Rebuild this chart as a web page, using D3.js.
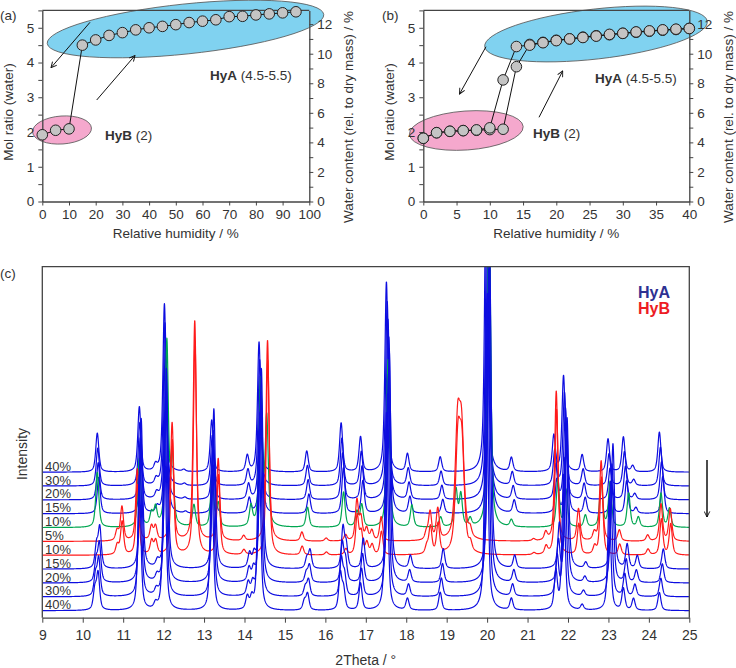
<!DOCTYPE html>
<html><head><meta charset="utf-8">
<script src="https://cdn.jsdelivr.net/npm/d3@7"></script>
<style>
body{margin:0;background:#fff}
svg{display:block}
text{font-family:Arial,"Liberation Sans",sans-serif;fill:#333}
</style>
</head><body>
<svg id="chart" width="736" height="668"></svg>
<script>
// ---------------- DATA ----------------
// Panel (a): water sorption, 0-95 % RH
const rhA = [0,5,10,15,20,25,30,35,40,45,50,55,60,65,70,75,80,85,90,95];
const molA = [1.92,2.05,2.09,4.50,4.65,4.78,4.86,4.94,5.00,5.04,5.09,5.15,5.19,5.23,5.32,5.33,5.37,5.40,5.43,5.46];

// Panel (b): sorption / desorption, 0-40 % RH
const rhB = [0,2,4,6,8,10,12,14,16,18,20,22,24,26,28,30,32,34,36,38,40];
const molBAds = [1.82,1.98,2.02,2.04,2.05,2.07,2.08,3.88,4.52,4.58,4.64,4.68,4.73,4.77,4.80,4.84,4.87,4.90,4.93,4.95,4.98];
const molBDes = [1.82,1.98,2.02,2.04,2.06,2.12,3.50,4.46,4.50,4.57,4.63,4.68,4.72,4.76,4.81,4.84,4.88,4.91,4.94,4.96,4.98];

// Panel (c): PXRD patterns (peak tables: 2theta, height, optional HWHM)
const patternLabels = ["40%","30%","20%","15%","10%","5%","10%","15%","20%","30%","40%"];
const patternPhase  = ["HyA-des","HyA-des","HyA-des","HyA-des","mix","HyB","HyB","HyA-ads","HyA-ads","HyA-ads","HyA-ads"];
const patternStrain = [0,0.0011,0.0022,0.0034,0,0,0.0004,0.004,0.003,0.0015,0];
const patternScale  = [1,0.97,0.95,0.93,1,1,0.97,1,0.95,0.92,0.9];

const peaksHyADes = [
  [10.36,39],[11.40,65],[11.80,6],[12.02,168],[12.50,2],[13.19,52],[14.07,16],[14.36,130],
  [15.54,21],[16.39,49],[16.87,35],[17.51,190],[18.03,18],[18.84,15],[19.98,330],[20.60,14],
  [21.65,36],[21.89,96],[22.35,17],[22.99,33],[23.37,35],[23.60,6],[24.26,40]
];
const peaksHyAAds = [
  [10.30,22],[10.38,40],[11.40,150],[11.80,6],[12.02,200],[13.19,160],[14.07,14],[14.18,12],[14.36,200],
  [15.48,10],[15.56,18],[16.37,40],[16.45,22],[16.87,30],[17.51,220],[18.03,13],[18.84,20],[19.98,330],[20.60,13],
  [21.70,42],[21.89,150],[22.35,6],[23.02,125],[23.37,24],[23.62,13],[24.26,20]
];
const peaksMix = [
  [10.36,55],[11.40,68],[11.70,13],[11.80,18],[12.08,184],[12.21,68],[12.75,22],[13.20,51],[13.35,23],
  [14.16,20],[14.40,145],[14.55,107],[15.56,20],[16.45,35],[16.78,15],[16.90,22],[17.55,168],[18.14,22],
  [18.85,10],[19.23,37],[19.35,32],[19.58,8],[20.05,330],[20.60,7],[21.75,47],[21.95,37],[22.43,12],
  [22.82,46],[23.04,45],[23.50,34],[23.74,10],[24.30,34],[24.51,19]
];
const peaksHyB = [
  [10.85,10],[10.97,34],[11.35,72],[11.70,14],[11.80,14],[12.21,118],[12.77,220],[13.35,82],[13.98,5],
  [14.57,201],[15.42,9],[16.02,3],[16.50,6],[16.78,40],[16.88,22],[17.02,12],[17.15,10],[17.38,24],
  [18.50,8],[18.59,28],[18.78,31],[19.27,108,0.07],[19.37,100,0.07],[19.58,8],[21.15,2],[21.45,8],
  [21.71,150],[22.26,32],[22.65,8],[22.82,80],[23.27,11],[23.97,6],[24.30,37],[24.53,32]
];

const tickA = [0,10,20,30,40,50,60,70,80,90,100];
const tickB = [0,5,10,15,20,25,30,35,40];
const tickMol = [0,1,2,3,4,5];
const tickWater = [0,2,4,6,8,10,12];
const tickTheta = d3.range(9,26,1);

// ---------------- DRAW ----------------
const svg = d3.select("#chart");
const axisCol = "#444";
const defs = svg.append("defs");
defs.append("marker").attr("id","arr").attr("viewBox","0 0 10 10").attr("refX",9).attr("refY",5)
  .attr("markerWidth",7).attr("markerHeight",7).attr("markerUnits","userSpaceOnUse").attr("orient","auto")
  .append("path").attr("d","M1,1 L9,5 L1,9").attr("fill","none").attr("stroke","#111").attr("stroke-width",1.3);

function styleAxis(g){
  g.selectAll(".domain").attr("stroke",axisCol).attr("stroke-width",1.3);
  g.selectAll(".tick line").attr("stroke",axisCol).attr("stroke-width",1);
  g.selectAll(".tick text").attr("fill","#333").style("font-size","13.5px").style("font-family","Arial,'Liberation Sans',sans-serif");
}

function sorptionPanel(opt){
  const x = d3.scaleLinear().domain(opt.xDomain).range([opt.left, opt.right]);
  const yL = d3.scaleLinear().domain([0,5.5]).range([201.5,10.4]);
  const yR = d3.scaleLinear().domain([0,12.93]).range([201.5,10.4]);
  const g = svg.append("g");
  opt.ellipses.forEach(e=>{
    g.append("ellipse").attr("cx",e.cx).attr("cy",e.cy).attr("rx",e.rx).attr("ry",e.ry)
      .attr("transform",`rotate(${e.rot},${e.cx},${e.cy})`)
      .attr("fill",e.fill).attr("stroke","#555").attr("stroke-width",0.8);
  });
  opt.arrows.forEach(a=>{
    g.append("line").attr("x1",a[0]).attr("y1",a[1]).attr("x2",a[2]).attr("y2",a[3])
      .attr("stroke","#111").attr("stroke-width",1).attr("marker-end","url(#arr)");
  });
  g.append("line").attr("x1",opt.left).attr("x2",opt.right).attr("y1",10.4).attr("y2",10.4)
    .attr("stroke",axisCol).attr("stroke-width",1.3);
  const ax = g.append("g").attr("transform","translate(0,201.5)")
    .call(d3.axisBottom(x).tickValues(opt.xTicks).tickSize(4).tickSizeOuter(0).tickPadding(4));
  styleAxis(ax);
  const ayl = g.append("g").attr("transform",`translate(${opt.left},0)`)
    .call(d3.axisLeft(yL).tickValues(d3.range(0,5.51,0.5)).tickSize(4).tickSizeOuter(0).tickPadding(4)
      .tickFormat(d=> Number.isInteger(d)? d : ""));
  styleAxis(ayl);
  const ayr = g.append("g").attr("transform",`translate(${opt.right},0)`)
    .call(d3.axisRight(yR).tickValues(d3.range(0,12.5,1)).tickSize(4).tickSizeOuter(0).tickPadding(4)
      .tickFormat(d=> tickWater.includes(d)? d : ""));
  styleAxis(ayr);
  opt.series.forEach(s=>{
    const pts = s.x.map((v,i)=>[v,s.y[i]]);
    g.append("path").datum(pts).attr("fill","none").attr("stroke","#111").attr("stroke-width",1)
      .attr("d",d3.line().x(d=>x(d[0])).y(d=>yL(d[1])));
  });
  opt.series.forEach(s=>{
    g.selectAll(null).data(s.x.map((v,i)=>[v,s.y[i]])).enter().append("circle")
      .attr("cx",d=>x(d[0])).attr("cy",d=>yL(d[1])).attr("r",5.3)
      .attr("fill","#c4c4c4").attr("stroke","#222").attr("stroke-width",1);
  });
  const cx = (opt.left+opt.right)/2;
  g.append("text").attr("x",cx).attr("y",238).attr("text-anchor","middle").style("font-size","13.5px").text("Relative humidity / %");
  g.append("text").attr("transform",`translate(${opt.left-29},${112}) rotate(-90)`).attr("text-anchor","middle").style("font-size","13.5px").text("Mol ratio (water)");
  g.append("text").attr("transform",`translate(${opt.right+44},${117}) rotate(-90)`).attr("text-anchor","middle").style("font-size","13.5px").text("Water content (rel. to dry mass) / %");
  g.append("text").attr("x",opt.panelX).attr("y",20).style("font-size","13.5px").text(opt.panel);
  const ta = g.append("text").attr("x",opt.hyA[0]).attr("y",opt.hyA[1]).style("font-size","13.5px");
  ta.append("tspan").attr("font-weight","bold").text("HyA");
  ta.append("tspan").text(" (4.5-5.5)");
  const tb = g.append("text").attr("x",opt.hyB[0]).attr("y",opt.hyB[1]).style("font-size","13.5px");
  tb.append("tspan").attr("font-weight","bold").text("HyB");
  tb.append("tspan").text(" (2)");
}

const blueFill = "#80d2f0", pinkFill = "#f5a8cd";

sorptionPanel({
  left:42.3, right:309.3, xDomain:[0,100], xTicks:tickA, panel:"(a)", panelX:0,
  ellipses:[{cx:185.5,cy:29,rx:139,ry:25,rot:-6,fill:blueFill},{cx:62,cy:130,rx:29.5,ry:14,rot:-4,fill:pinkFill}],
  arrows:[[90,22.3,51,67.7],[96.7,100,135,55.5]],
  series:[{x:rhA,y:molA}],
  hyA:[210,80], hyB:[105,140]
});
sorptionPanel({
  left:423.3, right:689.3, xDomain:[0,40], xTicks:tickB, panel:"(b)", panelX:382,
  ellipses:[{cx:596,cy:34,rx:112,ry:25,rot:-6.5,fill:blueFill},{cx:466.3,cy:130.5,rx:57,ry:19.5,rot:-4,fill:pinkFill}],
  arrows:[[486,46.7,459.5,94],[539,117.3,562.7,71]],
  series:[{x:rhB,y:molBAds},{x:rhB,y:molBDes}],
  hyA:[595,83], hyB:[533,138]
});

// ---------- Panel (c) ----------
const L=42.3, R=689.3, T=266.7, B=617.7;
const xT = d3.scaleLinear().domain([9,25]).range([L,R]);
const yI = d3.scaleLinear().domain([-7,344]).range([B,T]);
defs.append("clipPath").attr("id","clipC").append("rect").attr("x",L).attr("y",T).attr("width",R-L).attr("height",B-T);

const peakTables = {"HyA-des":peaksHyADes,"HyA-ads":peaksHyAAds,"mix":peaksMix,"HyB":peaksHyB};
const phaseColor = {"HyA-des":"#0d0de0","HyA-ads":"#0d0de0","mix":"#00a651","HyB":"#ff1a1a"};
const grid = d3.range(9,25.0001,0.004);
function profile(x,p,h,w){
  const g = w||0.045, t=(x-p)/g;
  return h*(0.62/(1+t*t) + 0.38*Math.exp(-0.6931*t*t));
}
const gc = svg.append("g").attr("clip-path","url(#clipC)");
const step = 13.85;
patternLabels.forEach((lab,i)=>{
  const peaks = peakTables[patternPhase[i]];
  const eps = patternStrain[i], sc = patternScale[i];
  const off = (patternLabels.length-1-i)*step;
  const pts = grid.map(x=>{
    let s=0;
    for(const pk of peaks){ s += profile(x, pk[0]*(1+eps), pk[1]*sc, pk[2]); }
    return [x, off+s];
  });
  gc.append("path").datum(pts).attr("fill","none").attr("stroke",phaseColor[patternPhase[i]])
    .attr("stroke-width",1.2).attr("stroke-linejoin","round")
    .attr("d",d3.line().x(d=>xT(d[0])).y(d=>yI(Math.min(d[1],400))));
  svg.append("text").attr("x",45).attr("y",yI(off)-1.5).style("font-size","13px").attr("fill","#333").text(lab);
});
svg.append("path").attr("d",`M${L},${B}V${T}H${R}V${B}`).attr("fill","none").attr("stroke",axisCol).attr("stroke-width",1.3);
const axC = svg.append("g").attr("transform",`translate(0,${B})`)
  .call(d3.axisBottom(xT).tickValues(tickTheta).tickSize(5).tickSizeOuter(0).tickPadding(7));
styleAxis(axC);
axC.selectAll(".tick text").style("font-size","14px");
svg.append("text").attr("x",(L+R)/2).attr("y",665).attr("text-anchor","middle").style("font-size","14px").text("2Theta / °");
svg.append("text").attr("transform","translate(27,454) rotate(-90)").attr("text-anchor","middle").style("font-size","14px").text("Intensity");
svg.append("text").attr("x",0).attr("y",278).style("font-size","13.5px").text("(c)");
svg.append("text").attr("x",638).attr("y",298).style("font-size","16px").attr("font-weight","bold").style("fill","#2e3192").text("HyA");
svg.append("text").attr("x",638).attr("y",314).style("font-size","16px").attr("font-weight","bold").style("fill","#ed1c24").text("HyB");
svg.append("line").attr("x1",707).attr("x2",707).attr("y1",460).attr("y2",517).attr("stroke","#111").attr("stroke-width",1.5).attr("marker-end","url(#arr)");
</script>
</body></html>
